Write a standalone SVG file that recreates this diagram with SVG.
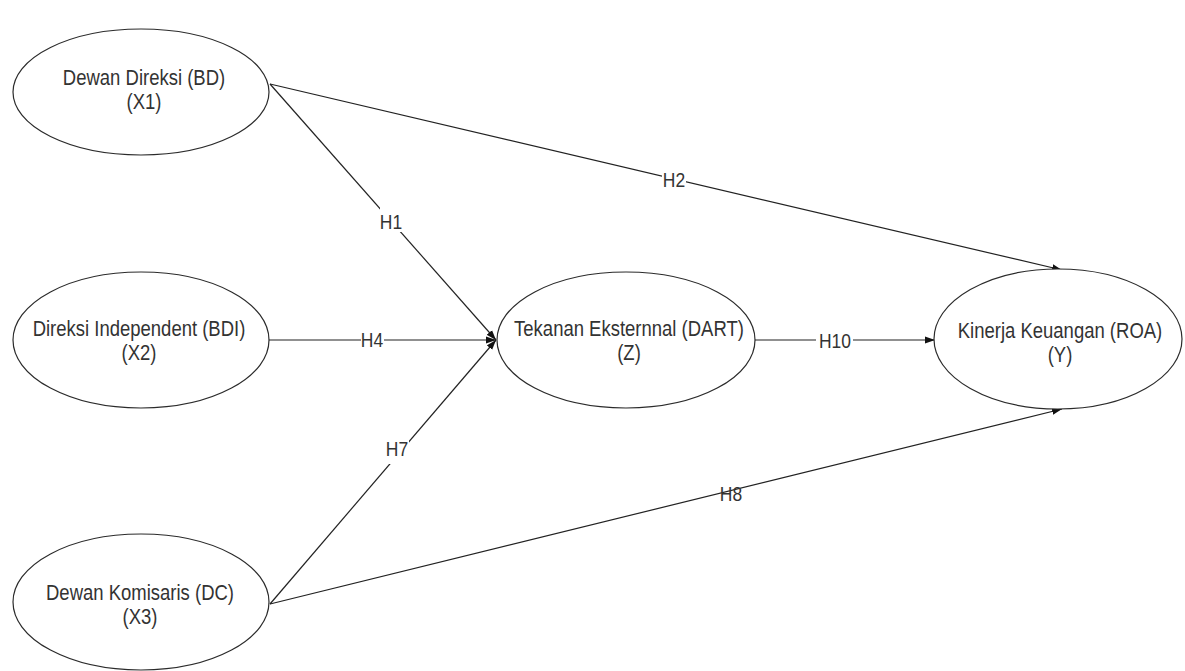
<svg xmlns="http://www.w3.org/2000/svg" width="1185" height="671" viewBox="0 0 1185 671">
<defs>
<style>
.node ellipse{fill:#fff;stroke:#2b2b2b;stroke-width:1.2}
.t{font-family:"Liberation Sans",Arial,sans-serif;font-size:18.5px;fill:#333;text-anchor:middle}
.lbl{font-family:"Liberation Sans",Arial,sans-serif;font-size:17.5px;fill:#333;text-anchor:middle}
.edge{stroke:#222;stroke-width:1.2;fill:none;marker-end:url(#arr)}
.bg{fill:#fff}
</style>
<marker id="arr" markerUnits="userSpaceOnUse" markerWidth="11" markerHeight="8" refX="10" refY="4" orient="auto">
<path d="M0,0.5 L10,4 L0,7.5 z" fill="#111"/>
</marker>
</defs>
<rect width="1185" height="671" fill="#fff"/>
<g id="connectors">
<line class="edge" x1="270" y1="84" x2="1062" y2="270"/>
<line class="edge" x1="270" y1="84" x2="496" y2="340"/>
<line class="edge" x1="269" y1="340" x2="496" y2="340"/>
<line class="edge" x1="270" y1="604" x2="496" y2="340"/>
<line class="edge" x1="270" y1="604" x2="1062" y2="409"/>
<line class="edge" x1="755" y1="340" x2="935" y2="340"/>
<rect class="bg" x="380" y="206" width="23" height="26"/>
<text class="lbl" transform="matrix(1 0 0 1.15 391 229)">H1</text>
<rect class="bg" x="662" y="170" width="24" height="20"/>
<text class="lbl" transform="matrix(1 0 0 1.15 674 187)">H2</text>
<rect class="bg" x="361" y="331" width="23" height="19"/>
<text class="lbl" transform="matrix(1 0 0 1.15 372 347)">H4</text>
<rect class="bg" x="385" y="438" width="24" height="26"/>
<text class="lbl" transform="matrix(1 0 0 1.15 397 456)">H7</text>
<text class="lbl" transform="matrix(1 0 0 1.15 731 501)">H8</text>
<rect class="bg" x="816" y="331" width="37" height="19"/>
<text class="lbl" transform="matrix(1 0 0 1.15 835 348)">H10</text>
</g>
<g id="x1" class="node">
<ellipse cx="141" cy="92" rx="128" ry="63"/>
<text class="t" transform="matrix(1 0 0 1.15 144 85)">Dewan Direksi (BD)</text>
<text class="t" transform="matrix(1 0 0 1.15 144 109)">(X1)</text>
</g>
<g id="x2" class="node">
<ellipse cx="141" cy="340" rx="128" ry="68"/>
<text class="t" transform="matrix(1 0 0 1.15 139 336)">Direksi Independent (BDI)</text>
<text class="t" transform="matrix(1 0 0 1.15 139 360)">(X2)</text>
</g>
<g id="x3" class="node">
<ellipse cx="141" cy="602" rx="128" ry="68"/>
<text class="t" transform="matrix(1 0 0 1.15 140 600)">Dewan Komisaris (DC)</text>
<text class="t" transform="matrix(1 0 0 1.15 140 624)">(X3)</text>
</g>
<g id="z" class="node">
<ellipse cx="626" cy="340" rx="129" ry="68"/>
<text class="t" transform="matrix(1 0 0 1.15 629 336)">Tekanan Eksternnal (DART)</text>
<text class="t" transform="matrix(1 0 0 1.15 629 360)">(Z)</text>
</g>
<g id="y" class="node">
<ellipse cx="1058" cy="339" rx="124" ry="70"/>
<text class="t" transform="matrix(1 0 0 1.15 1060 338)">Kinerja Keuangan (ROA)</text>
<text class="t" transform="matrix(1 0 0 1.15 1060 362)">(Y)</text>
</g>
</svg>
